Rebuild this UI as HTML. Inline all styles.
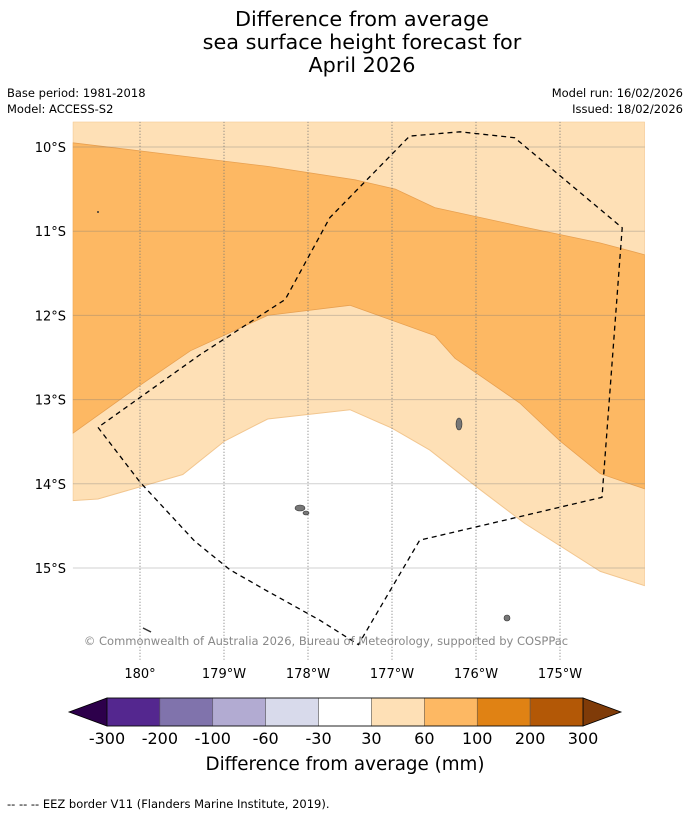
<!DOCTYPE html>
<html><head><meta charset="utf-8"><style>
body{margin:0;background:#fff;font-family:"DejaVu Sans","Liberation Sans",sans-serif}
#wrap{position:relative;width:690px;height:816px;overflow:hidden}
.t{position:absolute;white-space:nowrap;color:#000}
svg text{font-family:"DejaVu Sans","Liberation Sans",sans-serif}
</style></head><body>
<div id="wrap">
<div class="t" style="left:0;width:724px;text-align:center;top:8px;font-size:20.8px;line-height:23px">Difference from average<br>sea surface height forecast for<br>April 2026</div>
<div class="t" style="left:7px;top:85px;font-size:11.5px;line-height:16px">Base period: 1981-2018<br>Model: ACCESS-S2</div>
<div class="t" style="right:7px;top:85px;font-size:11.5px;line-height:16px;text-align:right">Model run: 16/02/2026<br>Issued: 18/02/2026</div>
<svg id="svg" width="690" height="816" style="position:absolute;left:0;top:0"></svg>
<div class="t" style="left:7px;top:797px;font-size:11.5px">--  --  -- EEZ border V11 (Flanders Marine Institute, 2019).</div>
</div>
<script>
const latTicks=[10,11,12,13,14,15];
const lonTicks=[0,1,2,3,4,5];
const lonLabels=["180°","179°W","178°W","177°W","176°W","175°W"];
const lightEdge=[[-0.8,14.2],[-0.5,14.18],[0.51,13.89],[1.01,13.49],[1.52,13.23],[2.5,13.12],[3.0,13.34],[3.45,13.6],[4.05,14.07],[4.58,14.47],[5.48,15.04],[6.01,15.21]];
const orangeTop=[[-0.8,9.95],[0.12,10.06],[1.52,10.23],[2.56,10.39],[3.04,10.5],[3.51,10.72],[4.52,10.94],[5.48,11.14],[6.01,11.28]];
const orangeBottom=[[6.01,14.06],[5.48,13.88],[5.0,13.49],[4.52,13.04],[3.75,12.51],[3.51,12.24],[2.5,11.88],[1.52,12.0],[0.6,12.42],[0,12.83],[-0.8,13.4]];
const eez=[[-0.5,13.33],[0,13.98],[0.65,14.68],[1.07,15.02],[1.49,15.26],[2.14,15.62],[2.6,15.91],[3.33,14.67],[5.5,14.16],[5.74,10.96],[4.46,9.89],[3.81,9.82],[3.21,9.87],[2.26,10.84],[1.73,11.81],[0.71,12.47],[-0.5,13.33]];
const levels=["-300","-200","-100","-60","-30","30","60","100","200","300"];
const cbColors=["#54278f","#8073ac","#b2abd2","#d8daeb","#ffffff","#fee0b6","#fdb863","#e08214","#b35806"];
const extColors=["#2d004b","#7f3b08"];
const X0=-0.8,X1=6.01,Y0=9.70,Y1=16.09;
function x(d){return 140+d*84;}
function y(s){return 147+(s-10)*84.2;}
const svg=document.getElementById('svg');const NS="http://www.w3.org/2000/svg";
function mk(tag,attrs,parent){const e=document.createElementNS(NS,tag);for(const k in attrs)e.setAttribute(k,attrs[k]);(parent||svg).appendChild(e);return e;}
function pts(a){return a.map(p=>x(p[0]).toFixed(1)+","+y(p[1]).toFixed(1)).join(" ");}
const clip=mk('clipPath',{id:'mc'});mk('rect',{x:x(X0),y:y(Y0),width:x(X1)-x(X0),height:y(Y1)-y(Y0)},clip);
const g=mk('g',{'clip-path':'url(#mc)'});
let e=mk('polygon',{points:pts([[X0,Y0],...lightEdge,[X1,Y0]]),fill:'#fee0b6',stroke:'#f2c68f','stroke-width':1},g);

e=mk('polygon',{points:pts([...orangeTop,...orangeBottom]),fill:'#fdb863',stroke:'#e8a050','stroke-width':0.8},g);

latTicks.forEach((s,i)=>{
 const l=mk('line',{x1:x(X0),x2:x(X1),y1:y(s),y2:y(s),stroke:'rgba(120,120,120,0.35)','stroke-width':1},g);
 
 const t=mk('text',{x:66,y:y(s)+5,'text-anchor':'end','font-size':13,fill:'#000'});t.textContent=s+"°S";
 
});
lonTicks.forEach((d,i)=>{
 const l=mk('line',{x1:x(d),x2:x(d),y1:y(Y0),y2:y(Y1),stroke:'#777','stroke-width':1,'stroke-dasharray':'1,2'},g);
 
 const t=mk('text',{x:x(d),y:678,'text-anchor':'middle','font-size':13,fill:'#000'});t.textContent=lonLabels[i];
 
});
[[459,424,3,6],[300,508,5,3],[507,618,3,3],[306,513,3,2]].forEach(a=>{
 const i=mk('ellipse',{cx:a[0],cy:a[1],rx:a[2],ry:a[3],fill:'#777',stroke:'#333','stroke-width':0.6},g);
 
});
mk('line',{x1:143,y1:628,x2:151,y2:632,stroke:'#333','stroke-width':1.5},g);
mk('circle',{cx:98,cy:212,r:1,fill:'#333'},g);
e=mk('polyline',{points:pts(eez),fill:'none',stroke:'#000','stroke-width':1.3,'stroke-dasharray':'5,4'},g);

e=mk('text',{x:326,y:645,'text-anchor':'middle','font-size':11.5,fill:'#888'});e.textContent="© Commonwealth of Australia 2026, Bureau of Meteorology, supported by COSPPac";

const cbX=107,cbW=476,cbY=698,cbH=28,seg=cbW/cbColors.length;
e=mk('polygon',{points:`${cbX},${cbY} ${cbX},${cbY+cbH} 69,${cbY+cbH/2}`,fill:extColors[0],stroke:'#000','stroke-width':0.8});

e=mk('polygon',{points:`${cbX+cbW},${cbY} ${cbX+cbW},${cbY+cbH} 621,${cbY+cbH/2}`,fill:extColors[1],stroke:'#000','stroke-width':0.8});

cbColors.forEach((c,i)=>{const r=mk('rect',{x:cbX+i*seg,y:cbY,width:seg,height:cbH,fill:c,stroke:'#555','stroke-width':0.5});
 });
mk('rect',{x:cbX,y:cbY,width:cbW,height:cbH,fill:'none',stroke:'#000','stroke-width':0.8});
levels.forEach((v,i)=>{const t=mk('text',{x:cbX+i*seg,y:744,'text-anchor':'middle','font-size':16,fill:'#000'});t.textContent=v;
 });
e=mk('text',{x:345,y:770,'text-anchor':'middle','font-size':18.3,fill:'#000'});e.textContent="Difference from average (mm)";

</script>
</body></html>
